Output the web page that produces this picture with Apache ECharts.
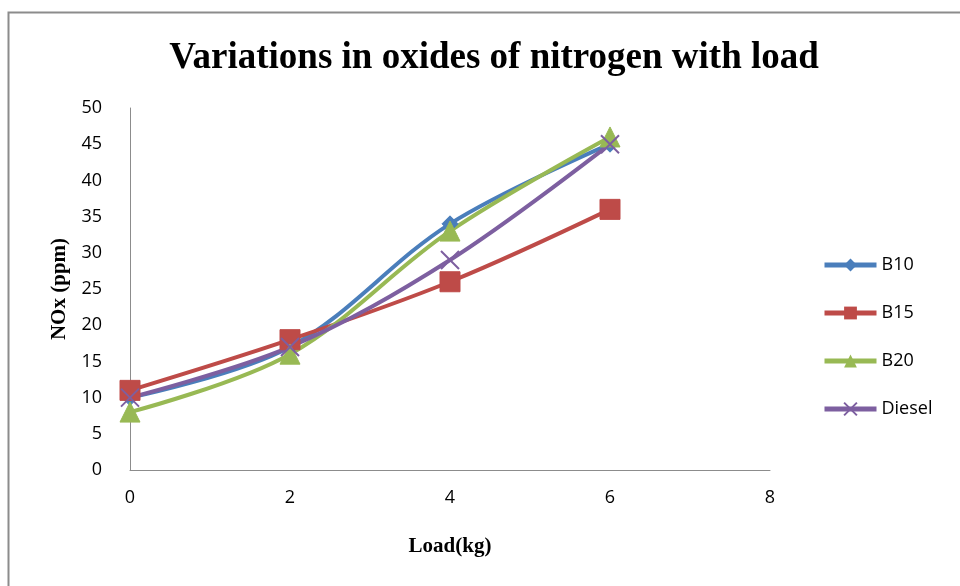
<!DOCTYPE html>
<html>
<head>
<meta charset="utf-8">
<script src="https://cdn.jsdelivr.net/npm/echarts@6/dist/echarts.min.js"></script>
<style>
  html, body { margin: 0; padding: 0; background: #fff; }
  #chart { width: 960px; height: 586px; }
</style>
</head>
<body>
<div id="chart"></div>
<script>
const loads  = [0, 2, 4, 6]
const b10    = [10, 17, 34, 45]
const b15    = [11, 18, 26, 36]
const b20    = [8, 16, 33, 46]
const diesel = [10, 17, 29, 45]

const pairs = (ys) => loads.map((x, i) => [x, ys[i]])

const chart = echarts.init(document.getElementById('chart'), null, { renderer: 'canvas' })

const labelFont = '"Open Sans", "Liberation Sans", sans-serif'
const serif = '"Liberation Serif", "DejaVu Serif", serif'

const line = (name, data, color, symbol, size, extra) => ({
  name,
  type: 'line',
  data: pairs(data),
  smooth: 0.35,
  symbol,
  symbolSize: size,
  lineStyle: { color, width: 4 },
  itemStyle: Object.assign({ color, borderColor: color }, extra || {}),
  emphasis: { disabled: true },
})

chart.setOption({
  animation: false,
  backgroundColor: '#fff',
  title: {
    text: 'Variations in oxides of nitrogen with load',
    left: 489,
    top: 35,
    textAlign: 'center',
    textStyle: { fontFamily: serif, fontWeight: 'bold', fontSize: 37, color: '#000' },
  },
  graphic: [{
    type: 'rect',
    shape: { x: 8.5, y: 12.5, width: 980, height: 600 },
    style: { fill: 'none', stroke: '#8c8c8c', lineWidth: 2 },
    silent: true,
  }],
  grid: { left: 130, right: 190, top: 108, bottom: 116 },
  legend: {
    orient: 'vertical',
    left: 817,
    top: 251,
    itemGap: 30,
    itemWidth: 52,
    itemHeight: 16,
    lineStyle: { width: 5 },
    textStyle: { fontFamily: labelFont, fontSize: 18, color: '#000' },
    data: ['B10', 'B15', 'B20', 'Diesel'],
  },
  xAxis: {
    type: 'value',
    min: 0, max: 8, interval: 2,
    name: 'Load(kg)',
    nameLocation: 'middle',
    nameGap: 66,
    nameTextStyle: { fontFamily: serif, fontWeight: 'bold', fontSize: 21, color: '#000' },
    axisLine: { show: true, lineStyle: { color: '#8c8c8c', width: 1 } },
    axisTick: { show: false },
    splitLine: { show: false },
    axisLabel: { fontFamily: labelFont, fontSize: 18, color: '#000', margin: 19 },
  },
  yAxis: {
    type: 'value',
    min: 0, max: 50, interval: 5,
    name: 'NOx (ppm)',
    nameLocation: 'middle',
    nameGap: 57,
    nameRotate: 90,
    nameTextStyle: { fontFamily: serif, fontWeight: 'bold', fontSize: 21, color: '#000' },
    axisLine: { show: true, lineStyle: { color: '#8c8c8c', width: 1 } },
    axisTick: { show: false },
    splitLine: { show: false },
    axisLabel: { fontFamily: labelFont, fontSize: 18, color: '#000', margin: 28 },
  },
  series: [
    line('B10', b10, '#4a7ebb', 'diamond', 16),
    line('B15', b15, '#be4b48', 'rect', 20),
    line('B20', b20, '#98b954', 'triangle', 20),
    line('Diesel', diesel, '#7d5fa0', 'path://M0,0 L10,10 M10,0 L0,10', 18,
      { borderWidth: 2, color: 'none' }),
  ],
})
</script>
</body>
</html>
